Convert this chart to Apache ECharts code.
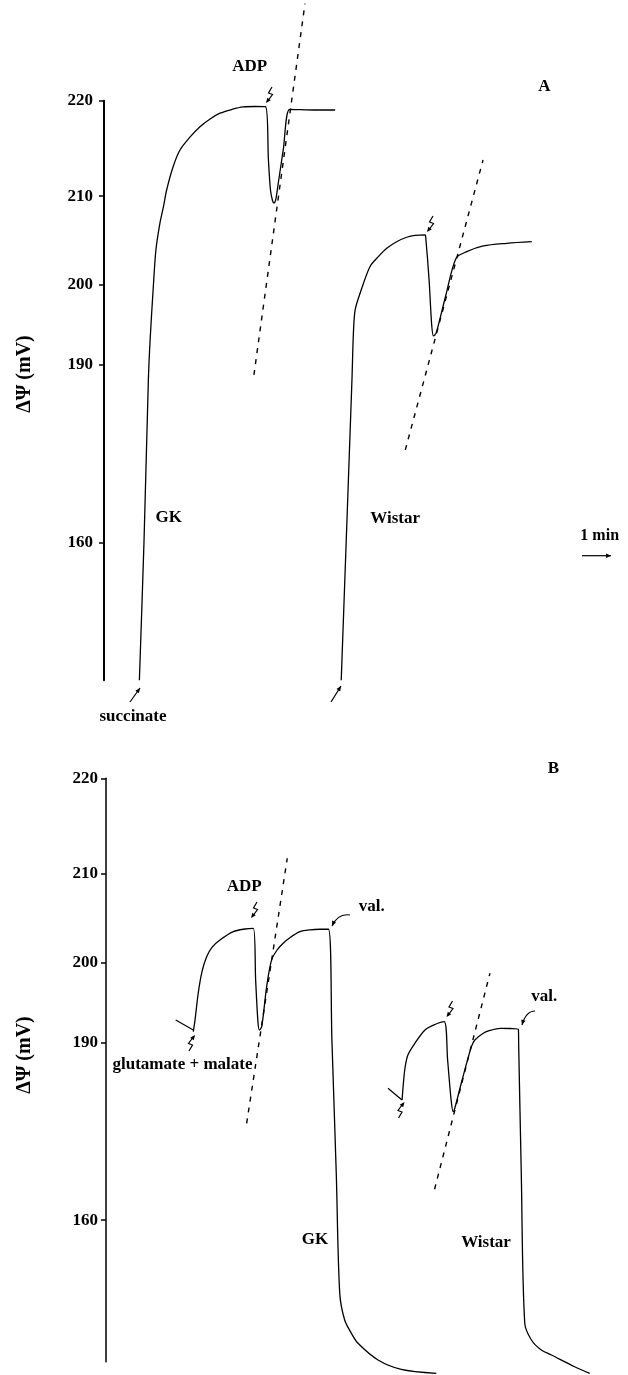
<!DOCTYPE html>
<html><head><meta charset="utf-8">
<script src="https://cdn.jsdelivr.net/npm/echarts@6/dist/echarts.min.js"></script>
<style>html,body{margin:0;padding:0;background:#fff}#c{width:628px;height:1375px}</style>
</head><body><div id="c"></div>
<script>
// ---- Data (time in min, TPP+ electrode signal in mV; ΔΨ ticks via calibration) ----
const tickPsi = [160, 190, 200, 210, 220];

const gkA_t   = [1.22, 1.38, 1.53, 1.59, 1.70, 1.79, 1.93, 2.05, 2.16, 2.38, 2.62, 2.97, 3.31, 3.66, 4.00, 4.41, 4.80, 5.21, 5.57, 5.67, 5.74, 5.81, 5.86, 5.92, 6.00, 6.18, 6.40, 6.76, 7.45, 7.97];
const gkA_sig = [0.00, 12.21, 26.32, 29.83, 34.47, 37.71, 40.08, 41.51, 42.97, 44.99, 46.48, 47.62, 48.52, 49.20, 49.70, 50.03, 50.25, 50.29, 50.27, 45.60, 42.97, 42.05, 41.83, 42.10, 43.41, 46.48, 50.03, 50.01, 49.98, 49.98];

const wistarA_t   = [8.18, 8.55, 8.60, 8.66, 8.83, 9.17, 9.46, 9.75, 10.09, 10.44, 10.72, 11.07, 11.09, 11.21, 11.30, 11.36, 11.41, 11.47, 11.79, 12.14, 12.51, 13.08, 13.89, 14.75];
const wistarA_sig = [0.00, 26.32, 30.41, 32.46, 33.92, 36.25, 37.13, 37.86, 38.44, 38.83, 38.99, 39.03, 38.94, 35.09, 31.14, 30.18, 30.27, 30.55, 33.77, 36.99, 37.57, 38.07, 38.30, 38.44];

const gkA_tan_t = [5.17, 6.93],  gkA_tan_sig = [26.76, 59.30];
const wiA_tan_t = [10.39, 13.07], wiA_tan_sig = [20.19, 45.60];

const gkB_t   = [3.01, 3.07, 3.18, 3.31, 3.47, 3.66, 3.93, 4.39, 4.79, 5.08, 5.16, 5.24, 5.29, 5.37, 5.54, 5.71, 5.90, 6.11, 6.35, 6.69, 7.03, 7.38, 7.67, 7.79, 7.94, 8.06, 8.23, 8.46, 8.69, 9.38, 10.18, 11.39];
const gkB_sig = [28.59, 29.62, 31.96, 33.85, 35.16, 36.01, 36.63, 37.36, 37.59, 37.65, 33.12, 29.44, 28.74, 29.03, 32.54, 34.88, 35.75, 36.34, 36.85, 37.36, 37.52, 37.57, 37.57, 27.86, 16.18, 5.66, 3.32, 2.16, 1.28, -0.18, -1.00, -1.35];

const wistarB_t   = [10.21, 10.25, 10.31, 10.41, 10.65, 11.00, 11.34, 11.66, 11.78, 11.90, 11.97, 12.03, 12.28, 12.60, 12.72, 13.01, 13.24, 13.59, 13.93, 14.22, 14.23, 14.32, 14.44, 14.67, 15.01, 15.36, 16.16, 16.68];
const wistarB_sig = [22.61, 23.92, 25.41, 26.55, 27.57, 28.74, 29.22, 29.47, 26.11, 22.61, 21.58, 21.90, 24.36, 27.28, 27.86, 28.45, 28.70, 28.89, 28.87, 28.80, 27.43, 16.18, 3.04, 1.57, 0.69, 0.26, -0.77, -1.35];

const gkB_tan_t = [4.85, 6.25],   gkB_tan_sig = [20.56, 43.79];
const wiB_tan_t = [11.33, 13.24], wiB_tan_sig = [14.78, 33.71];

// ---- calibration ΔΨ <-> electrode signal ----
function psiToSig(v){ return 59*Math.log10(1+Math.pow(10,(v-173)/59)); }
function sigToPsi(s){ return 173 + 59*Math.log10(Math.pow(10,s/59)-1); }
const tickSig = tickPsi.map(psiToSig);
const zip = (a,b)=>a.map((v,i)=>[v,b[i]]);

const SERIF = "'Liberation Serif','DejaVu Serif',serif";
function txt(str,x,y,size,extra){
  return Object.assign({type:'text',x:x,y:y,style:{text:str,font:'bold '+size+'px '+SERIF,fill:'#000',
    textAlign:'center',align:'center',textVerticalAlign:'middle',verticalAlign:'middle'}},extra||{});
}
function seg(x1,y1,x2,y2,w){ return {type:'line',shape:{x1,y1,x2,y2},style:{stroke:'#000',lineWidth:w||1.2}}; }
function head(x1,y1,x2,y2,len,w){
  const a=Math.atan2(y2-y1,x2-x1),c=Math.cos(a),s=Math.sin(a);
  return {type:'polygon',shape:{points:[[x2,y2],[x2-len*c+w*s,y2-len*s-w*c],[x2-len*c-w*s,y2-len*s+w*c]]},style:{fill:'#000'}};
}
function arrow(x1,y1,x2,y2){ return [seg(x1,y1,x2,y2,1.2), head(x1,y1,x2,y2,5,2.2)]; }
function zig(tx,ty,dir){
  const k = dir==='up'?-1:1;
  const p=[[tx+6*k,ty-16*k],[tx+2.5*k,ty-10*k],[tx+6.5*k,ty-8.5*k],[tx+1*k,ty-1*k]];
  return [{type:'polyline',shape:{points:p},style:{stroke:'#000',lineWidth:1.2,fill:null}},
          head(tx+6.5*k,ty-8.5*k,tx,ty,5,2.2)];
}
function curved(x1,y1,x2,y2,cx,cy){
  return [{type:'bezierCurve',shape:{x1,y1,x2,y2,cpx1:cx,cpy1:cy},style:{stroke:'#000',lineWidth:1.2,fill:null}},
          head(cx,cy,x2,y2,5,2.2)];
}

const lineBase = {type:'line',showSymbol:false,symbol:'none',smooth:0.3,clip:false,
  lineStyle:{color:'#000',width:1.3},silent:true};
const dashBase = {type:'line',showSymbol:false,symbol:'none',clip:false,
  lineStyle:{color:'#000',width:1.4,type:[5,6]},silent:true};

function yAxis(gi,min,lw,margin){
  return {type:'value',gridIndex:gi,min:min,max:psiToSig(220),
    axisLine:{show:true,lineStyle:{color:'#000',width:lw}},
    axisTick:{show:true,customValues:tickSig,length:5,lineStyle:{color:'#000',width:1.5}},
    axisLabel:{show:true,customValues:tickSig,margin:margin,color:'#000',fontFamily:SERIF,fontWeight:'bold',fontSize:17,
      formatter:v=>String(Math.round(sigToPsi(v)))},
    splitLine:{show:false}};
}
const xAxis = gi=>({type:'value',gridIndex:gi,min:0,max:18,show:false});

const graphics = [].concat(
  txt('ADP',249.7,67,17), txt('A',544.3,87,17),
  txt('GK',168.7,518,17), txt('Wistar',395.2,519,17), txt('succinate',133,717,17),
  txt('1 min',599.7,536,16),
  arrow(582,555.7,611,555.7),
  arrow(130,702,140,688), arrow(331,702,341,686),
  zig(266,103,'down'), zig(427,232,'down'),
  txt('ΔΨ (mV)',25,374,20,{rotation:Math.PI/2}),
  txt('ADP',244.2,886.7,17), txt('B',553.3,768.3,17),
  txt('val.',371.7,906.7,17), txt('val.',544.2,996.7,17),
  curved(350,915,332,926,338,913), curved(535,1011,522,1025,526,1011),
  txt('glutamate + malate',182.5,1065,17),
  txt('GK',315,1240,17), txt('Wistar',486,1242.7,17),
  zig(251,918,'down'), zig(446.5,1017,'down'),
  zig(195,1035,'up'), zig(404.5,1102,'up'),
  seg(175.7,1020,193.3,1030,1.2), seg(388,1088.3,402,1100,1.2),
  txt('ΔΨ (mV)',25,1055,20,{rotation:Math.PI/2})
);

const chart = echarts.init(document.getElementById('c'),null,{renderer:'canvas'});
chart.setOption({
  animation:false,
  backgroundColor:'#fff',
  grid:[{left:104,top:100.7,width:522,height:579.6},{left:106,top:778.3,width:522,height:583.4}],
  xAxis:[xAxis(0),xAxis(1)],
  yAxis:[yAxis(0,0,2,11),yAxis(1,-0.33,1.5,8)],
  series:[
    Object.assign({},lineBase,{name:'GK A',xAxisIndex:0,yAxisIndex:0,data:zip(gkA_t,gkA_sig)}),
    Object.assign({},lineBase,{name:'Wistar A',xAxisIndex:0,yAxisIndex:0,data:zip(wistarA_t,wistarA_sig)}),
    Object.assign({},dashBase,{name:'GK A slope',xAxisIndex:0,yAxisIndex:0,data:zip(gkA_tan_t,gkA_tan_sig)}),
    Object.assign({},dashBase,{name:'Wistar A slope',xAxisIndex:0,yAxisIndex:0,data:zip(wiA_tan_t,wiA_tan_sig)}),
    Object.assign({},lineBase,{name:'GK B',xAxisIndex:1,yAxisIndex:1,data:zip(gkB_t,gkB_sig)}),
    Object.assign({},lineBase,{name:'Wistar B',xAxisIndex:1,yAxisIndex:1,data:zip(wistarB_t,wistarB_sig)}),
    Object.assign({},dashBase,{name:'GK B slope',xAxisIndex:1,yAxisIndex:1,data:zip(gkB_tan_t,gkB_tan_sig)}),
    Object.assign({},dashBase,{name:'Wistar B slope',xAxisIndex:1,yAxisIndex:1,data:zip(wiB_tan_t,wiB_tan_sig)})
  ],
  graphic:graphics
});
</script></body></html>
